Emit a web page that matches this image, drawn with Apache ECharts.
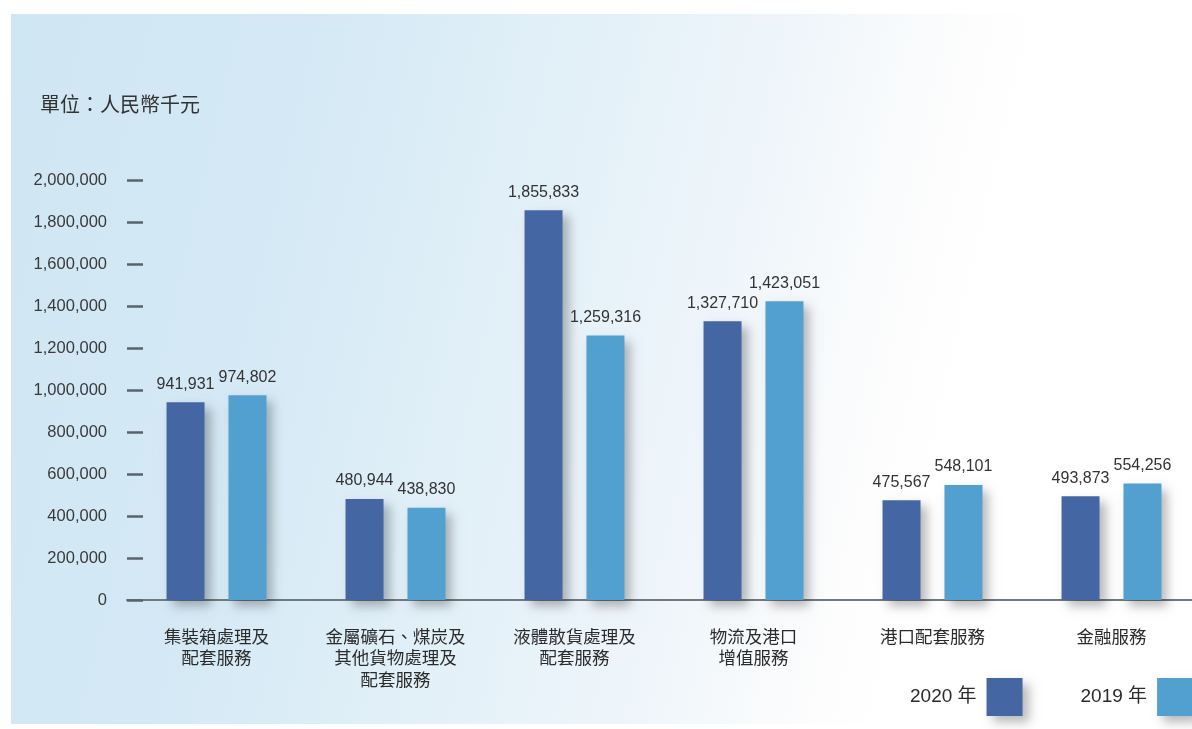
<!DOCTYPE html>
<html>
<head>
<meta charset="utf-8">
<script src="https://cdn.jsdelivr.net/npm/echarts@6/dist/echarts.min.js"></script>
<style>
html,body{margin:0;padding:0;background:#fff;}
#chart{width:1192px;height:729px;}
</style>
</head>
<body>
<div id="chart"></div>
<script>
const categories = [
  '集裝箱處理及\n配套服務',
  '金屬礦石、煤炭及\n其他貨物處理及\n配套服務',
  '液體散貨處理及\n配套服務',
  '物流及港口\n增值服務',
  '港口配套服務',
  '金融服務'
];
const seriesNames = ['2020 年', '2019 年'];
const values2020 = [941931, 480944, 1855833, 1327710, 475567, 493873];
const values2019 = [974802, 438830, 1259316, 1423051, 548101, 554256];
const yTicks = { min: 0, max: 2000000, interval: 200000 };
const unitLabel = '單位：人民幣千元';

const FONT = '"Liberation Sans", "Noto Sans CJK TC", sans-serif';
const colors = ['#4466a3', '#52a0cf'];
const fmt = v => Number(v).toLocaleString('en-US');

const chart = echarts.init(document.getElementById('chart'));
const barStyle = (c) => ({
  color: c,
  shadowColor: 'rgba(0,0,0,0.28)',
  shadowBlur: 10,
  shadowOffsetX: 6,
  shadowOffsetY: 6
});
const makeSeries = (name, data, c) => ({
  name: name,
  type: 'bar',
  data: data,
  barWidth: 38,
  barGap: '63%',
  itemStyle: barStyle(c),
  label: {
    show: true,
    position: 'top',
    distance: 10,
    formatter: p => fmt(p.value),
    fontFamily: FONT,
    fontSize: 16,
    color: '#333'
  },
  z: 3
});

chart.setOption({
  backgroundColor: '#ffffff',
  animation: false,
  graphic: [
    {
      type: 'rect',
      z: -10,
      silent: true,
      shape: { x: 11, y: 14, width: 1181, height: 710 },
      style: {
        fill: new echarts.graphic.LinearGradient(0, 0, 1000, 230, [
          { offset: 0, color: '#cfe6f3' },
          { offset: 0.3, color: '#d4e9f5' },
          { offset: 0.55, color: '#e2f0f8' },
          { offset: 0.75, color: '#eef5fa' },
          { offset: 0.93, color: '#fdfdfd' },
          { offset: 1, color: '#ffffff' }
        ], true)
      }
    },
    {
      type: 'text',
      left: 40,
      top: 96,
      style: {
        text: unitLabel,
        fontFamily: FONT,
        fontSize: 20,
        fill: '#333'
      }
    }
  ],
  legend: {
    data: seriesNames,
    left: 905,
    top: 673,
    width: 400,
    orient: 'horizontal',
    align: 'right',
    itemWidth: 36,
    itemHeight: 38,
    itemGap: 58,
    icon: 'rect',
    textStyle: { fontFamily: FONT, fontSize: 19, color: '#2b2b2b', padding: [0, 5, 0, 0] },
    itemStyle: {
      shadowColor: 'rgba(0,0,0,0.28)',
      shadowBlur: 10,
      shadowOffsetX: 6,
      shadowOffsetY: 6
    }
  },
  grid: { left: 127, top: 180, width: 1074, height: 420, containLabel: false, outerBoundsMode: 'none' },
  xAxis: {
    type: 'category',
    data: categories,
    axisLine: { show: true, lineStyle: { color: '#6f7a80', width: 2 } },
    axisTick: { show: false },
    axisLabel: {
      interval: 0,
      margin: 27,
      fontFamily: FONT,
      fontSize: 17.5,
      lineHeight: 21.5,
      color: '#2b2b2b',
      align: 'center'
    }
  },
  yAxis: {
    type: 'value',
    min: yTicks.min,
    max: yTicks.max,
    interval: yTicks.interval,
    axisLine: { show: false },
    axisTick: { show: true, inside: true, length: 16, lineStyle: { color: '#59636b', width: 2.5 } },
    splitLine: { show: false },
    axisLabel: {
      margin: 20,
      fontFamily: FONT,
      fontSize: 16.5,
      color: '#3a3a3a',
      formatter: v => fmt(v)
    }
  },
  series: [
    makeSeries(seriesNames[0], values2020, colors[0]),
    makeSeries(seriesNames[1], values2019, colors[1])
  ]
});
</script>
</body>
</html>
